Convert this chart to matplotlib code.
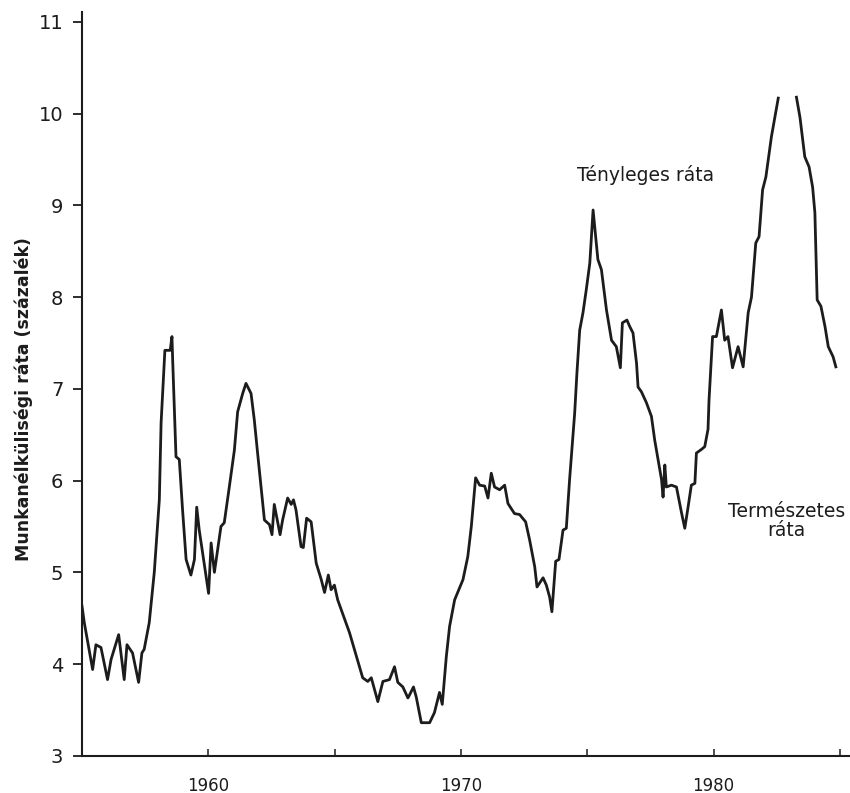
import numpy as np
import matplotlib
matplotlib.use('Agg')
import matplotlib.pyplot as plt

# tényleges munkanélküliségi ráta, leolvasva az ábráról (év, százalék)
years = [1955.00, 1955.09, 1955.42, 1955.55, 1955.75, 1956.01, 1956.15, 1956.45,
         1956.67, 1956.78, 1957.00, 1957.24, 1957.37, 1957.46, 1957.66, 1957.86,
         1958.06, 1958.13, 1958.28, 1958.49, 1958.56, 1958.59, 1958.72, 1958.85,
         1958.98, 1959.12, 1959.31, 1959.45, 1959.54, 1959.64, 1960.01, 1960.11,
         1960.24, 1960.50, 1960.63, 1960.83, 1961.03, 1961.16, 1961.36, 1961.49,
         1961.69, 1961.82, 1961.95, 1962.22, 1962.42, 1962.52, 1962.61, 1962.75,
         1962.84, 1962.94, 1963.14, 1963.28, 1963.37, 1963.47, 1963.67, 1963.76,
         1963.89, 1964.07, 1964.27, 1964.47, 1964.60, 1964.75, 1964.86, 1964.99,
         1965.12, 1965.59, 1966.11, 1966.31, 1966.45, 1966.71, 1966.91, 1967.17,
         1967.37, 1967.50, 1967.70, 1967.90, 1967.96, 1968.12, 1968.23, 1968.43,
         1968.76, 1968.95, 1969.15, 1969.26, 1969.42, 1969.55, 1969.75, 1970.08,
         1970.27, 1970.41, 1970.58, 1970.74, 1970.94, 1971.07, 1971.20, 1971.33,
         1971.53, 1971.73, 1971.86, 1972.12, 1972.32, 1972.56, 1972.72, 1972.92,
         1973.01, 1973.25, 1973.38, 1973.51, 1973.60, 1973.75, 1973.88, 1974.04,
         1974.17, 1974.30, 1974.50, 1974.59, 1974.70, 1974.83, 1974.96, 1975.10,
         1975.23, 1975.42, 1975.56, 1975.76, 1975.96, 1976.15, 1976.31, 1976.39,
         1976.57, 1976.68, 1976.81, 1976.95, 1977.01, 1977.14, 1977.34, 1977.54,
         1977.67, 1977.80, 1977.94, 1978.00, 1978.07, 1978.13, 1978.33, 1978.53,
         1978.73, 1978.86, 1978.99, 1979.12, 1979.26, 1979.32, 1979.52, 1979.65,
         1979.78, 1979.82, 1979.96, 1980.11, 1980.31, 1980.44, 1980.57, 1980.75,
         1980.97, 1981.17, 1981.37, 1981.50, 1981.67, 1981.80, 1981.94, 1982.07,
         1982.29, 1982.56, 1982.90, 1983.28, 1983.42, 1983.61, 1983.78, 1983.92,
         1984.01, 1984.10, 1984.25, 1984.41, 1984.54, 1984.73, 1984.84]
rate = [4.63, 4.45, 3.94, 4.21, 4.18, 3.83, 4.05, 4.32,
        3.83, 4.21, 4.12, 3.80, 4.12, 4.16, 4.45, 5.00,
        5.79, 6.63, 7.42, 7.42, 7.57, 7.30, 6.26, 6.23,
        5.68, 5.14, 4.97, 5.14, 5.71, 5.46, 4.77, 5.32,
        5.00, 5.50, 5.54, 5.93, 6.33, 6.75, 6.95, 7.06,
        6.95, 6.66, 6.30, 5.57, 5.52, 5.41, 5.74, 5.54,
        5.41, 5.57, 5.81, 5.74, 5.79, 5.68, 5.28, 5.27,
        5.59, 5.55, 5.10, 4.92, 4.78, 4.97, 4.81, 4.86,
        4.70, 4.34, 3.85, 3.81, 3.85, 3.59, 3.81, 3.83,
        3.97, 3.80, 3.75, 3.63, 3.66, 3.75, 3.64, 3.36,
        3.36, 3.47, 3.69, 3.56, 4.08, 4.41, 4.70, 4.92,
        5.17, 5.50, 6.03, 5.95, 5.94, 5.81, 6.08, 5.93,
        5.90, 5.95, 5.75, 5.64, 5.63, 5.55, 5.35, 5.06,
        4.84, 4.94, 4.86, 4.73, 4.57, 5.12, 5.14, 5.46,
        5.48, 6.01, 6.73, 7.17, 7.64, 7.83, 8.08, 8.37,
        8.95, 8.41, 8.30, 7.86, 7.53, 7.46, 7.23, 7.72,
        7.75, 7.68, 7.61, 7.28, 7.02, 6.97, 6.85, 6.70,
        6.44, 6.23, 6.01, 5.82, 6.17, 5.93, 5.95, 5.93,
        5.65, 5.48, 5.71, 5.95, 5.97, 6.30, 6.34, 6.37,
        6.56, 6.88, 7.57, 7.57, 7.86, 7.53, 7.57, 7.23,
        7.46, 7.24, 7.83, 8.00, 8.59, 8.66, 9.17, 9.31,
        9.75, 10.17, np.nan, 10.18, 9.96, 9.53, 9.42, 9.20,
        8.92, 7.97, 7.90, 7.68, 7.46, 7.35, 7.24]

yticks = [3, 4, 5, 6, 7, 8, 9, 10, 11]
xticks = [1960, 1970, 1980]
xticklabels = ['1960', '1970', '1980']
xminor = [1965, 1975, 1985]

ink = '#1c1c1c'

fig = plt.figure(figsize=(8.5, 7.93), dpi=100)
ax = fig.add_axes([0.0965, 0.047, 0.9035, 0.938])

ax.plot(years, rate, color=ink, lw=2.0)

ax.set_xlim(1955, 1985.4)
ax.set_ylim(3, 11.11)

ax.spines['top'].set_visible(False)
ax.spines['right'].set_visible(False)
ax.spines['left'].set_linewidth(1.5)
ax.spines['bottom'].set_linewidth(1.5)
ax.spines['left'].set_color(ink)
ax.spines['bottom'].set_color(ink)

ax.set_yticks(yticks)
ax.set_yticklabels([str(v) for v in yticks])
ax.tick_params(axis='y', direction='out', length=6.5, width=1.3, pad=7,
               labelsize=14, colors=ink)
ax.set_xticks(xticks)
ax.set_xticks(xminor, minor=True)
ax.set_xticklabels(xticklabels)
ax.tick_params(axis='x', which='both', direction='in', length=5, width=1.1,
               pad=15, labelsize=12, colors=ink)

ax.set_ylabel('Munkanélküliségi ráta (százalék)', fontsize=12.5,
              fontweight='bold', color=ink)
ax.yaxis.set_label_coords(-0.064, 0.48)

ax.text(1977.3, 9.33, 'Tényleges ráta', fontsize=13.5, color=ink,
        ha='center', va='center')
ax.text(1982.9, 5.56, 'Természetes\nráta', fontsize=13.5, color=ink,
        ha='center', va='center', linespacing=0.95)

fig.savefig('out.png', dpi=100)
